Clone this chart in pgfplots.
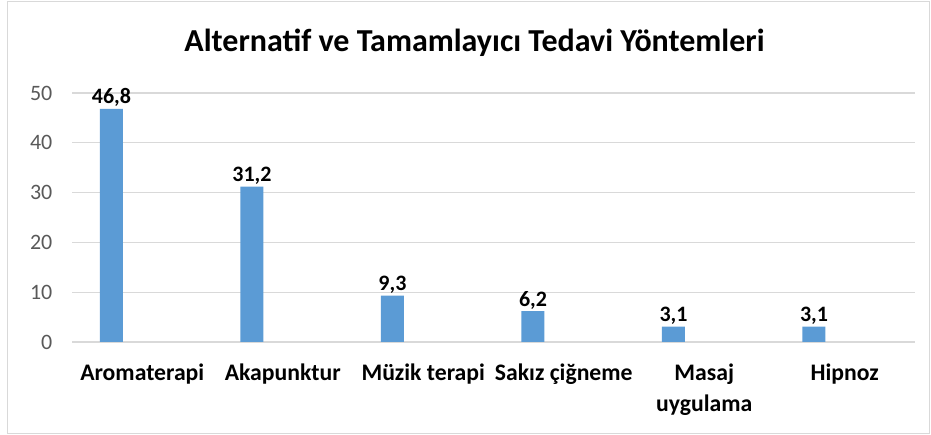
\documentclass[border=0pt]{standalone}
\usepackage{fontspec}
\setmainfont{Carlito}
\usepackage{pgfplots}
\pgfplotsset{compat=1.18}
\definecolor{barblue}{HTML}{5B9BD5}
\definecolor{gridgray}{HTML}{D9D9D9}
\definecolor{ticktext}{HTML}{595959}
\begin{document}
\begin{tikzpicture}[x=1pt,y=1pt]
\path[use as bounding box] (0,0) rectangle (931,435);
\draw[gridgray, line width=1.5pt] (7.5,1.5) rectangle (929.5,433.5);
\node[font=\bfseries\fontsize{32}{38}\selectfont, anchor=base, inner sep=0pt] at (474.5,383) {Alternatif ve Tamamlayıcı Tedavi Yöntemleri};
\begin{axis}[
  at={(72pt,93pt)}, anchor=south west, scale only axis,
  width=843pt, height=249pt,
  xmin=-0.5, xmax=5.5, ymin=0, ymax=50,
  ytick={0,10,...,50},
  xtick={0,...,5},
  xticklabels={Aromaterapi,Akapunktur,Müzik terapi,Sakız çiğneme,{Masaj\\uygulama},Hipnoz},
  axis line style={draw=none},
  major tick length=0pt,
  ymajorgrids,
  grid style={gridgray, line width=1.3pt},
  /pgf/number format/assume math mode=true,
  yticklabel style={font=\fontsize{22}{26}\selectfont, text=ticktext, anchor=east, inner sep=0pt, xshift=-19.5pt},
  xticklabel style={font=\bfseries\fontsize{23.7}{31}\selectfont, text=black, align=center, anchor=north, inner sep=0pt, yshift=-22pt},
  ybar, bar width=23pt,
  nodes near coords={\pgfmathprintnumber[assume math mode=true,use comma,fixed,precision=1]{\pgfplotspointmeta}},
  every node near coord/.append style={font=\bfseries\fontsize{22}{26}\selectfont, text=black, anchor=base, inner sep=0pt, yshift=5pt},
  clip=false,
]
\addplot[fill=barblue, draw=none] coordinates {
  (-0.219,46.8) (0.781,31.2) (1.781,9.3) (2.781,6.2) (3.781,3.1) (4.781,3.1)
};
\end{axis}
\end{tikzpicture}
\end{document}
